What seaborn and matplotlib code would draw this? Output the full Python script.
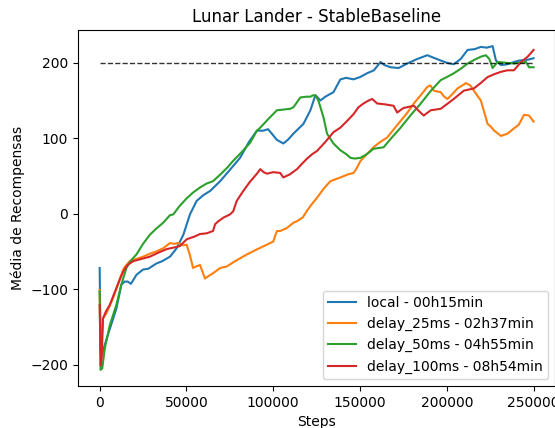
import pandas as pd
import numpy as np
import matplotlib
matplotlib.use('Agg')
import matplotlib.pyplot as plt
import seaborn as sns

# Dados (média móvel das recompensas)
local_steps = [0, 500, 1500, 2900, 5800, 9600, 12500, 14400, 16200, 18000, 21200, 25000, 28000, 32700,
               36000, 40500, 44300, 48200, 52000, 55900, 60000, 63600, 69400, 75000, 80900, 86000, 90600,
               94400, 97000, 99200, 102000, 105800, 108500, 111600, 117400, 121400, 124300, 127200, 130000,
               134700, 138700, 142000, 146300, 150000, 154000, 158000, 161800, 164000, 167600, 172300,
               177200, 183000, 188800, 192000, 196500, 200000, 204000, 208000, 212000, 216000, 219600,
               223000, 226400, 228300, 231200, 235000, 238700, 242000, 246600, 250000]
local_vals = [-72, -180, -185, -174, -153, -126, -94, -90, -90, -93, -81, -74, -73, -66,
              -63, -57, -46, -28, -1, 17, 25, 30, 43, 58, 74, 95, 110,
              110, 112, 106, 98, 93, 98, 106, 119, 137, 157, 150, 155,
              161, 178, 180, 178, 181, 186, 190, 201, 197, 194, 193,
              199, 205, 210, 207, 203, 200, 198, 205, 217, 218, 221,
              220, 222, 203, 197, 198, 201, 203, 204, 206]

d25_steps = [0, 500, 1000, 1900, 3900, 7700, 11600, 14000, 17300, 21000, 25000, 29000, 32700, 36500,
             40500, 43000, 45100, 48000, 50100, 52000, 53800, 55500, 57800, 60700, 62500, 65300, 69400,
             73200, 78000, 84800, 90000, 96400, 100000, 102100, 104000, 107900, 111600, 113700, 117000,
             119500, 122000, 125200, 129000, 132900, 138700, 143000, 146300, 148000, 150300, 154000,
             157800, 161000, 165700, 169500, 173400, 177000, 181000, 185000, 188800, 190500, 192500,
             196500, 198500, 200400, 203000, 206200, 209000, 211000, 213500, 215600, 218000, 219600,
             221500, 223500, 225500, 227300, 229000, 231200, 235000, 238700, 241500, 244500, 247400, 250000]
d25_vals = [-101, -165, -175, -139, -132, -112, -86, -72, -63, -60, -57, -53, -50, -46,
            -39, -40, -39, -42, -41, -55, -72, -70, -68, -86, -83, -79, -72,
            -70, -63, -54, -48, -41, -37, -23, -23, -19, -12, -10, -5,
            4, 12, 21, 33, 43, 48, 52, 54, 60, 70, 79,
            88, 94, 101, 112, 123, 133, 146, 157, 168, 170, 163,
            161, 155, 152, 158, 166, 170, 173, 170, 163, 155, 150,
            135, 119, 115, 110, 107, 103, 106, 113, 118, 131, 130, 122]

d50_steps = [0, 500, 1500, 2900, 5800, 9600, 12500, 15400, 18000, 21200, 25000, 28900, 32500, 36600,
             40500, 42400, 46000, 50000, 53800, 58000, 61700, 65300, 70000, 73500, 76900, 82000, 86700,
             90600, 92500, 97000, 102100, 106000, 109800, 111600, 113500, 115600, 119000, 121400, 123100,
             124500, 126000, 128900, 131000, 134700, 138700, 142000, 144500, 147000, 150300, 154000,
             157800, 163600, 168000, 173400, 179000, 185000, 190500, 196500, 200000, 204000, 208000,
             212000, 216000, 219600, 222500, 224500, 226400, 229300, 234000, 238700, 242000, 245600,
             247400, 250000]
d50_vals = [-103, -207, -205, -179, -148, -121, -94, -72, -62, -54, -40, -28, -20, -12,
            -2, -1, 10, 20, 28, 35, 40, 43, 53, 61, 70, 82, 94,
            110, 114, 125, 137, 138, 139, 141, 147, 154, 155, 155, 157,
            156, 150, 128, 106, 93, 84, 79, 74, 73, 74, 79,
            86, 88, 100, 114, 130, 146, 162, 177, 181, 186, 192,
            199, 204, 208, 210, 205, 193, 201, 200, 199, 200, 201,
            194, 194]

d100_steps = [0, 600, 1200, 1900, 3500, 5800, 8000, 9600, 11500, 13500, 16000, 19300, 24000, 28900,
              33500, 38500, 42500, 46200, 50100, 55000, 57800, 61700, 65300, 66500, 68400, 71500, 75100,
              76900, 79000, 82700, 86500, 90600, 92500, 94500, 96400, 100000, 104000, 105800, 109500,
              113700, 116500, 119500, 122500, 125200, 130000, 134700, 138700, 142600, 146300, 149100,
              152000, 155000, 157000, 159900, 164000, 169300, 171400, 175000, 181000, 183500, 186700,
              190700, 196500, 200000, 204000, 209800, 215600, 219500, 223500, 227500, 231200, 235000,
              238700, 242800, 246600, 250000]
d100_vals = [-121, -201, -190, -139, -130, -121, -108, -99, -88, -77, -68, -63, -60, -57,
             -52, -47, -45, -43, -34, -30, -27, -26, -23, -14, -10, -5, -1,
             3, 17, 30, 42, 53, 59, 55, 53, 55, 54, 48, 52,
             59, 66, 73, 79, 83, 95, 108, 114, 123, 132, 141,
             146, 150, 152, 146, 145, 143, 134, 140, 143, 137, 130,
             137, 139, 145, 152, 163, 166, 173, 181, 185, 188, 190,
             190, 201, 208, 217]

labels = ['local - 00h15min', 'delay_25ms - 02h37min', 'delay_50ms - 04h55min', 'delay_100ms - 08h54min']
target = 200
total_steps = 250000

# Monta o DataFrame no formato longo
frames = []
for lab, s, v in zip(labels, [local_steps, d25_steps, d50_steps, d100_steps],
                     [local_vals, d25_vals, d50_vals, d100_vals]):
    frames.append(pd.DataFrame({'Steps': s, 'reward': v, 'run': lab}))
df = pd.concat(frames, ignore_index=True)

fig = plt.figure(figsize=(5.55, 4.28), dpi=100)
ax = fig.add_axes([0.1405, 0.098, 0.86, 0.832])

sns.lineplot(data=df, x='Steps', y='reward', hue='run', estimator=None, sort=False,
             palette='tab10', linewidth=1.5, ax=ax)
ax.plot([0, total_steps], [target, target], 'k--', linewidth=1, alpha=0.8)

ax.set_title('Lunar Lander - StableBaseline')
ax.set_xlabel('Steps')
ax.set_ylabel('Média de Recompensas')
ax.legend(loc='lower right', title=None)

fig.savefig('out.png', dpi=100)
